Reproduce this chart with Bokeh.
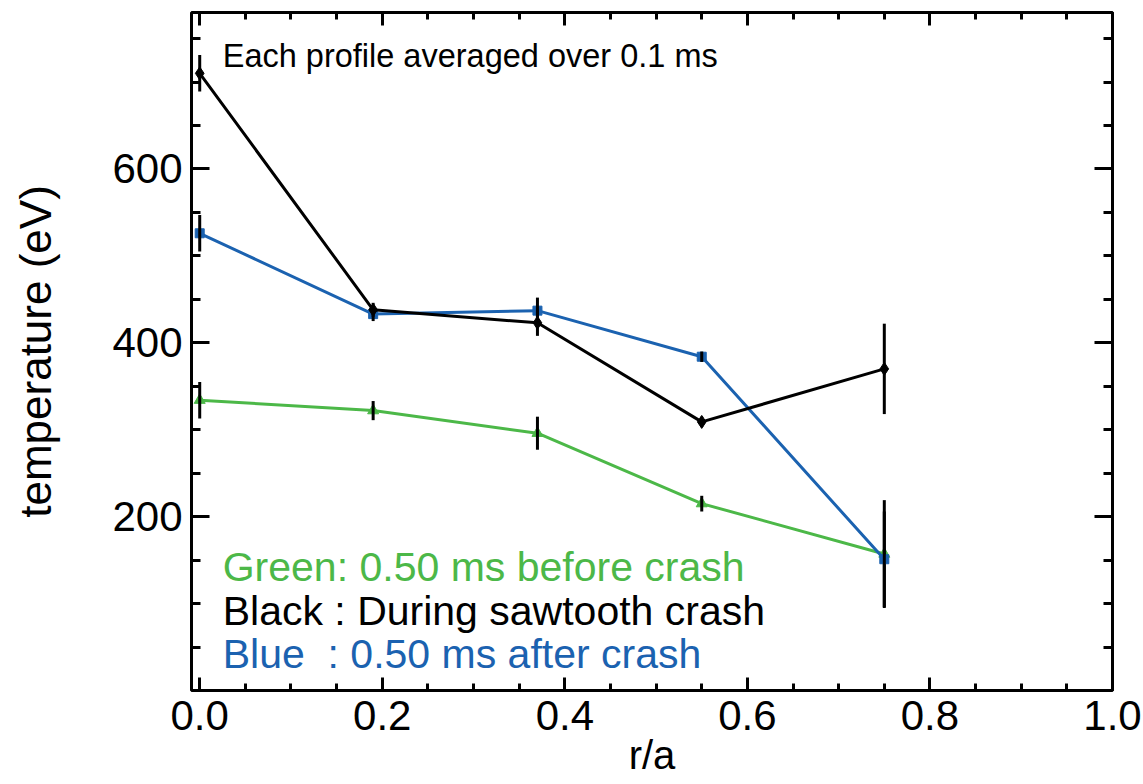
from bokeh.plotting import figure
from bokeh.models import (FixedTicker, LinearAxis, Label, CustomJSTickFormatter,
                          PrintfTickFormatter, ColumnDataSource, Range1d)
from bokeh.embed import file_html
from bokeh.resources import INLINE

# ---- data ----
r_over_a = [0.0, 0.19, 0.37, 0.55, 0.75]
green_te = [334, 322, 296, 215, 157]
green_err = [21, 11, 19, 9, 62]
black_te = [710, 438, 423, 309, 370]
black_err = [21, 8, 15, 6, 52]
blue_te = [526, 433, 437, 384, 151]
blue_err = [21, 8, 15, 6, 55]

x_major = [0.0, 0.2, 0.4, 0.6, 0.8, 1.0]
x_minor = [round(0.05 * i, 2) for i in range(21)]
y_major = [200, 400, 600]
y_minor = [50 * i for i in range(1, 16)]

GREEN = "#4cb848"
BLUE = "#1b62b0"
BLACK = "#000000"
FONT = "Liberation Sans"

p = figure(width=1143, height=784, x_range=Range1d(-0.009, 1.0), y_range=Range1d(0, 780),
           output_backend="svg", toolbar_location=None,
           min_border_left=191, min_border_right=31, min_border_top=12, min_border_bottom=94)
p.xgrid.visible = False
p.ygrid.visible = False
p.outline_line_color = "black"
p.outline_line_width = 3
p.background_fill_color = "white"
p.border_fill_color = "white"


def style_axis(ax, ticker, major_len, minor_len, labels=True, fmt=None):
    ax.ticker = ticker
    ax.axis_line_color = None
    ax.major_tick_in = major_len
    ax.major_tick_out = 0
    ax.minor_tick_in = minor_len
    ax.minor_tick_out = 0
    ax.major_tick_line_width = 3
    ax.minor_tick_line_width = 3
    ax.major_tick_line_color = "black"
    ax.minor_tick_line_color = "black"
    if labels:
        ax.major_label_text_font = FONT
        ax.major_label_text_font_size = "42px"
        ax.major_label_text_color = "black"
        if fmt is not None:
            ax.formatter = fmt
    else:
        ax.formatter = CustomJSTickFormatter(code="return ''")
        ax.major_label_text_font_size = "1px"
        ax.major_label_standoff = 0


xt = FixedTicker(ticks=x_major, minor_ticks=x_minor)
yt = FixedTicker(ticks=y_major, minor_ticks=y_minor)

xax = p.xaxis[0]
style_axis(xax, xt, 13, 7, True, PrintfTickFormatter(format="%.1f"))
xax.major_label_standoff = 10
xax.axis_label = "r/a"
xax.axis_label_text_font = FONT
xax.axis_label_text_font_size = "40px"
xax.axis_label_text_font_style = "normal"
xax.axis_label_text_color = "black"
xax.axis_label_standoff = 0

yax = p.yaxis[0]
style_axis(yax, yt, 18, 9, True, PrintfTickFormatter(format="%d"))
yax.major_label_standoff = 9
yax.axis_label = "temperature (eV)"
yax.axis_label_text_font = FONT
yax.axis_label_text_font_size = "44px"
yax.axis_label_text_font_style = "normal"
yax.axis_label_text_color = "black"
yax.axis_label_standoff = 49

top_ax = LinearAxis()
style_axis(top_ax, FixedTicker(ticks=x_major, minor_ticks=x_minor), 13, 7, False)
p.add_layout(top_ax, "above")
right_ax = LinearAxis()
style_axis(right_ax, FixedTicker(ticks=y_major, minor_ticks=y_minor), 18, 9, False)
p.add_layout(right_ax, "right")

# ---- series ----
series = [
    (green_te, green_err, GREEN, "triangle", 11),
    (blue_te, blue_err, BLUE, "square", 9),
    (black_te, black_err, BLACK, "diamond", 13),
]
for te, err, col, mk, sz in series:
    src = ColumnDataSource(dict(x=r_over_a, y=te,
                                lo=[v - e for v, e in zip(te, err)],
                                hi=[v + e for v, e in zip(te, err)]))
    p.line("x", "y", source=src, line_color=col, line_width=3)
    p.scatter("x", "y", source=src, marker=mk, size=sz, fill_color=col, line_color=col)
    p.segment(x0="x", y0="lo", x1="x", y1="hi", source=src, line_color="black", line_width=3)

# ---- annotations ----
p.add_layout(Label(x=0.0252, y=730, text="Each profile averaged over 0.1 ms",
                   text_font=FONT, text_font_size="32.5px", text_color="black",
                   text_baseline="alphabetic"))
legend_items = [("Green: 0.50 ms before crash", GREEN, 142),
                ("Black : During sawtooth crash", BLACK, 92),
                ("Blue\u00a0\u00a0: 0.50 ms after crash", BLUE, 42)]
for txt, col, yy in legend_items:
    p.add_layout(Label(x=0.0252, y=yy, text=txt, text_font=FONT, text_font_size="41px",
                       text_color=col, text_baseline="alphabetic"))

open("out.html", "w").write(file_html(p, INLINE))
